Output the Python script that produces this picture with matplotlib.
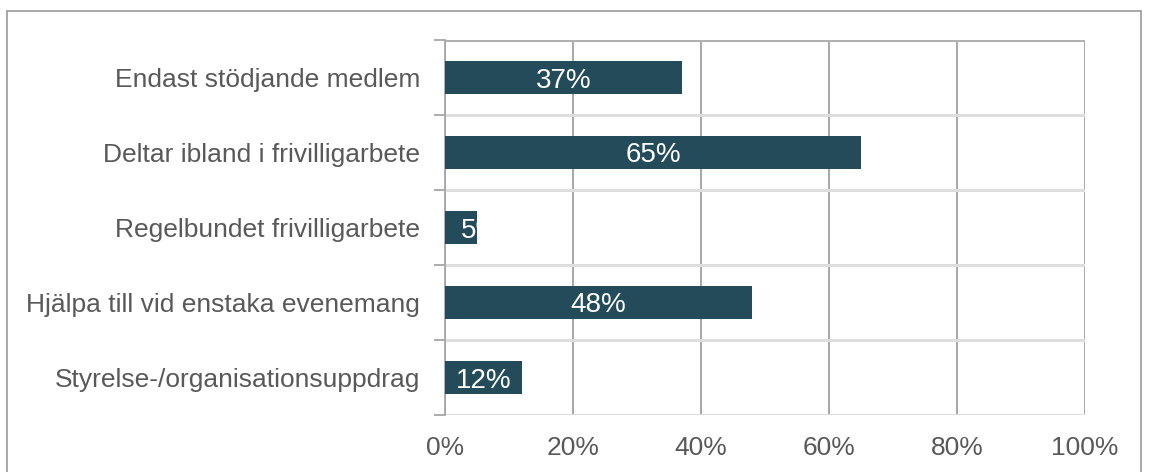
import matplotlib.pyplot as plt
from matplotlib.patches import Rectangle

# data
categories = [
    'Endast stödjande medlem',
    'Deltar ibland i frivilligarbete',
    'Regelbundet frivilligarbete',
    'Hjälpa till vid enstaka evenemang',
    'Styrelse-/organisationsuppdrag',
]
values = [37, 65, 5, 48, 12]
xticks = [0, 20, 40, 60, 80, 100]

bar_color = '#234B59'
text_color = '#595959'

plt.rcParams['font.family'] = ['Liberation Sans', 'DejaVu Sans']

fig = plt.figure(figsize=(11.49, 4.72), dpi=100)
ax = fig.add_axes([445 / 1149, 1 - 415 / 472, 640 / 1149, 375 / 472])

y = list(range(len(categories)))
bars = ax.barh(y, values, height=0.43, color=bar_color, zorder=3)

ax.set_xlim(0, 100)
ax.set_ylim(len(categories) - 0.5, -0.5)

# vertical gridlines
for t in xticks:
    ax.axvline(t, color='#a0a0a0', lw=1.3, zorder=1)

# horizontal separators between categories
for k in range(1, len(categories) + 1):
    ax.axhline(k - 0.5, color='#dedede', lw=2.2, zorder=1)
ax.axhline(-0.5, color='#b0b0b0', lw=2.2, zorder=1)

for s in ax.spines.values():
    s.set_visible(False)
ax.spines['left'].set_visible(True)
ax.spines['left'].set_color('#a6a6a6')
ax.spines['left'].set_linewidth(1.3)

ax.set_yticks([k - 0.5 for k in range(len(categories) + 1)], minor=True)
ax.tick_params(axis='y', which='minor', length=8, width=1.3, color='#a6a6a6')
ax.set_yticks(y)
ax.set_yticklabels(categories, fontsize=19, color=text_color)
ax.tick_params(axis='y', which='major', length=0, pad=18)

ax.set_xticks(xticks)
ax.set_xticklabels([f'{t}%' for t in xticks], fontsize=19, color=text_color)
ax.tick_params(axis='x', length=0, pad=15)

# bar labels
fig.canvas.draw()
renderer = fig.canvas.get_renderer()
for b, v in zip(bars, values):
    cx = b.get_x() + b.get_width() / 2
    cy = b.get_y() + b.get_height() / 2
    t = ax.text(cx, cy, f'{v}%', ha='center', va='center_baseline', color='white',
                fontsize=20, zorder=4)
    tw = t.get_window_extent(renderer).width
    bw = ax.transData.transform((b.get_width(), 0))[0] - ax.transData.transform((0, 0))[0]
    if tw > bw:
        t.set_ha('left')
        t.set_clip_path(b)

# outer frame
fig.add_artist(Rectangle((7 / 1149, -0.1), 1134 / 1149, 1.1 - 11 / 472,
                         transform=fig.transFigure, fill=False,
                         edgecolor='#999999', lw=1.2, clip_on=False))

fig.savefig('out.png', dpi=100)
